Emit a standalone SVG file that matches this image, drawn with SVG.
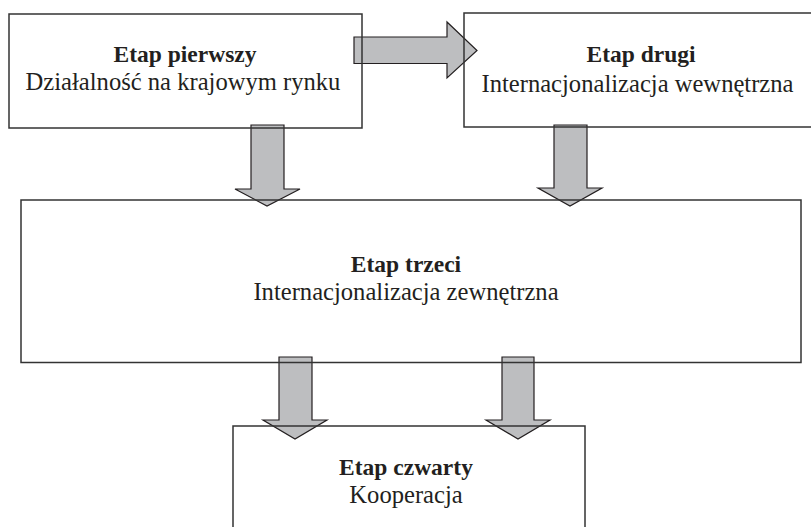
<svg xmlns="http://www.w3.org/2000/svg" width="811" height="527" viewBox="0 0 811 527">
<style>
.arr{fill:#bdbec0;stroke:#231f20;stroke-width:1.2;stroke-linejoin:miter}
.box{fill:none;stroke:#333333;stroke-width:1.5}
.t{fill:#231f20;text-anchor:middle}
.b{font-weight:bold;font-size:23.5px}
.r{font-size:24.6px}
</style>
<rect width="811" height="527" fill="#ffffff"/>
<g id="connectors">
<path class="arr" d="M354,37 L447,37 L447,22 L477,50.5 L447,78 L447,63.5 L354,63.5 Z"/>
<path class="arr" d="M251,125 L284,125 L284,189 L300,189 L267,206 L235,189 L251,189 Z"/>
<path class="arr" d="M554,125 L587,125 L587,188 L602,188 L570,206 L538,188 L554,188 Z"/>
<path class="arr" d="M279,357 L312,357 L312,420 L327,420 L295,439 L263,420 L279,420 Z"/>
<path class="arr" d="M502,357 L534,357 L534,420 L550,420 L518,439 L486,420 L502,420 Z"/>
</g>
<g font-family="Liberation Serif, Times New Roman, serif">
<g id="etap1">
<rect class="box" x="9" y="14" width="353" height="114"/>
<text class="t b" x="185" y="62">Etap pierwszy</text>
<text class="t r" x="183" y="90">Działalność na krajowym rynku</text>
</g>
<g id="etap2">
<rect class="box" x="464" y="13" width="360" height="114"/>
<text class="t b" x="641" y="62">Etap drugi</text>
<text class="t r" x="637.5" y="91.5">Internacjonalizacja wewnętrzna</text>
</g>
<g id="etap3">
<rect class="box" x="21" y="200" width="780" height="162.5"/>
<text class="t b" x="406" y="272">Etap trzeci</text>
<text class="t r" x="406" y="300">Internacjonalizacja zewnętrzna</text>
</g>
<g id="etap4">
<rect class="box" x="233" y="426" width="352" height="120"/>
<text class="t b" x="406" y="475">Etap czwarty</text>
<text class="t r" x="406" y="503">Kooperacja</text>
</g>
</g>
</svg>
